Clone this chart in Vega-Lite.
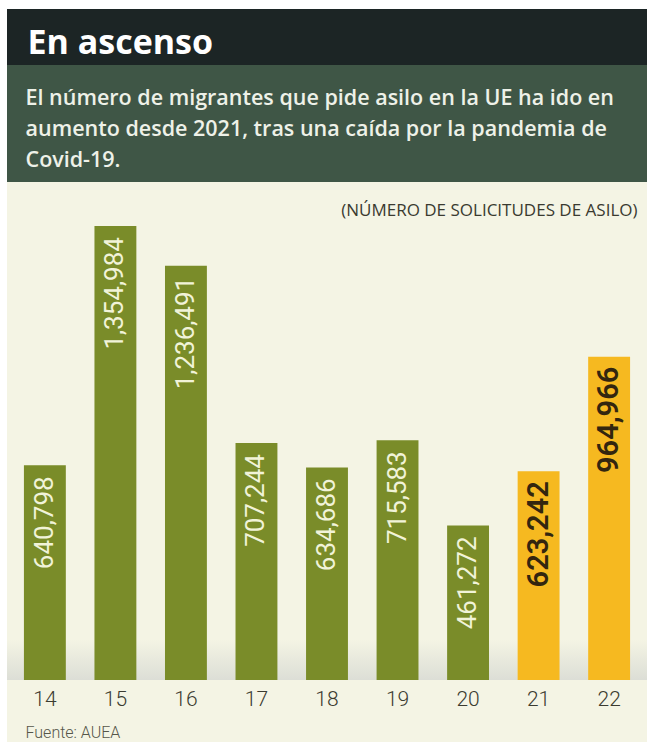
{
  "$schema": "https://vega.github.io/schema/vega-lite/v6.json",
  "background": "#ffffff",
  "padding": {"left": 7, "top": 9, "right": 0, "bottom": 0},
  "spacing": 0,
  "vconcat": [
    {
      "width": 640,
      "height": 56,
      "view": {"fill": "#1c2525", "stroke": null},
      "data": {"values": [{"banda": "titulo"}]},
      "mark": {"type": "rect", "color": "#1c2525"},
      "encoding": {
        "x": {
          "field": "banda",
          "type": "nominal",
          "scale": {"paddingInner": 0, "paddingOuter": 0},
          "axis": {
            "orient": "top",
            "labels": false,
            "ticks": false,
            "domain": false,
            "title": "En ascenso",
            "titleX": 20,
            "titleY": 44,
            "titleAlign": "left",
            "titleAnchor": "start",
            "titleBaseline": "alphabetic",
            "titleFont": "Open Sans",
            "titleFontSize": 34,
            "titleFontWeight": "bold",
            "titleColor": "#ffffff"
          }
        }
      }
    },
    {
      "width": 640,
      "height": 117,
      "view": {"fill": "#3f5646", "stroke": null},
      "data": {"values": [{"banda": "subtitulo"}]},
      "mark": {"type": "rect", "color": "#3f5646"},
      "encoding": {
        "x": {
          "field": "banda",
          "type": "nominal",
          "scale": {"paddingInner": 0, "paddingOuter": 0},
          "axis": {
            "orient": "top",
            "labels": false,
            "ticks": false,
            "domain": false,
            "title": [
              "El número de migrantes que pide asilo en la UE ha ido en",
              "aumento desde 2021, tras una caída por la pandemia de",
              "Covid-19."
            ],
            "titleX": 18,
            "titleY": 39,
            "titleAlign": "left",
            "titleAnchor": "start",
            "titleBaseline": "alphabetic",
            "titleLineHeight": 31,
            "titleFont": "Open Sans",
            "titleFontSize": 21.5,
            "titleFontWeight": 600,
            "titleColor": "#eef1e8"
          }
        }
      }
    },
    {
      "width": 640,
      "height": 560,
      "view": {"fill": "#f4f4e4", "stroke": null},
      "data": {
        "values": [
          {"anio": "14", "solicitudes": 640798, "grupo": "antes"},
          {"anio": "15", "solicitudes": 1354984, "grupo": "antes"},
          {"anio": "16", "solicitudes": 1236491, "grupo": "antes"},
          {"anio": "17", "solicitudes": 707244, "grupo": "antes"},
          {"anio": "18", "solicitudes": 634686, "grupo": "antes"},
          {"anio": "19", "solicitudes": 715583, "grupo": "antes"},
          {"anio": "20", "solicitudes": 461272, "grupo": "antes"},
          {"anio": "21", "solicitudes": 623242, "grupo": "ascenso"},
          {"anio": "22", "solicitudes": 964966, "grupo": "ascenso"}
        ]
      },
      "layer": [
        {
          "data": {"values": [{"desde": 0, "hasta": 120000}]},
          "mark": {
            "type": "rect",
            "color": {
              "gradient": "linear",
              "x1": 0, "y1": 0, "x2": 0, "y2": 1,
              "stops": [
                {"offset": 0, "color": "#f4f4e4"},
                {"offset": 1, "color": "#dcded6"}
              ]
            }
          },
          "encoding": {
            "y": {"field": "hasta", "type": "quantitative", "title": "(NÚMERO DE SOLICITUDES DE ASILO)", "scale": {"domain": [-185075, 1486567], "nice": false, "zero": false}},
            "y2": {"field": "desde"}
          }
        },
        {
          "mark": {"type": "bar"},
          "encoding": {
            "x": {"field": "anio", "type": "ordinal", "title": "Fuente: AUEA", "scale": {"paddingInner": 0.406, "paddingOuter": 0.24}},
            "y": {"field": "solicitudes", "type": "quantitative", "title": "(NÚMERO DE SOLICITUDES DE ASILO)", "scale": {"domain": [-185075, 1486567], "nice": false, "zero": false}},
            "color": {"field": "grupo", "type": "nominal", "scale": {"domain": ["antes", "ascenso"], "range": ["#7a8c29", "#f6b920"]}, "legend": null}
          }
        },
        {
          "transform": [{"filter": "datum.grupo === 'antes'"}],
          "mark": {"type": "text", "angle": 270, "align": "right", "baseline": "middle", "dx": -11, "font": "Roboto", "fontSize": 26, "color": "#f1f3d8"},
          "encoding": {
            "x": {"field": "anio", "type": "ordinal", "title": "Fuente: AUEA"},
            "y": {"field": "solicitudes", "type": "quantitative", "title": "(NÚMERO DE SOLICITUDES DE ASILO)", "scale": {"domain": [-185075, 1486567], "nice": false, "zero": false}},
            "text": {"field": "solicitudes", "type": "quantitative", "format": ","}
          }
        },
        {
          "transform": [{"filter": "datum.grupo === 'ascenso'"}],
          "mark": {"type": "text", "angle": 270, "align": "right", "baseline": "middle", "dx": -10, "font": "Roboto", "fontSize": 29, "fontWeight": 600, "color": "#33260f"},
          "encoding": {
            "x": {"field": "anio", "type": "ordinal", "title": "Fuente: AUEA"},
            "y": {"field": "solicitudes", "type": "quantitative", "title": "(NÚMERO DE SOLICITUDES DE ASILO)", "scale": {"domain": [-185075, 1486567], "nice": false, "zero": false}},
            "text": {"field": "solicitudes", "type": "quantitative", "format": ","}
          }
        }
      ]
    }
  ],
  "config": {
    "view": {"stroke": null},
    "concat": {"spacing": 0},
    "axisBottom": {
      "offset": -62,
      "domain": false,
      "ticks": false,
      "grid": false,
      "labelAngle": 0,
      "labelFont": "Roboto",
      "labelFontSize": 21,
      "labelFontWeight": 300,
      "labelColor": "#3b3b30",
      "labelPadding": 8,
      "titleAnchor": "start",
      "titleAlign": "left",
      "titleX": 18,
      "titleY": 57,
      "titleBaseline": "alphabetic",
      "titleFont": "Roboto",
      "titleFontSize": 16,
      "titleFontWeight": 300,
      "titleColor": "#56564a"
    },
    "axisLeft": {
      "domain": false,
      "ticks": false,
      "labels": false,
      "grid": false,
      "titleAngle": 0,
      "titleAnchor": "start",
      "titleAlign": "right",
      "titleX": 630,
      "titleY": 33,
      "titleBaseline": "alphabetic",
      "titleFont": "Open Sans",
      "titleFontSize": 17,
      "titleFontWeight": "normal",
      "titleColor": "#3a3a30"
    }
  }
}
